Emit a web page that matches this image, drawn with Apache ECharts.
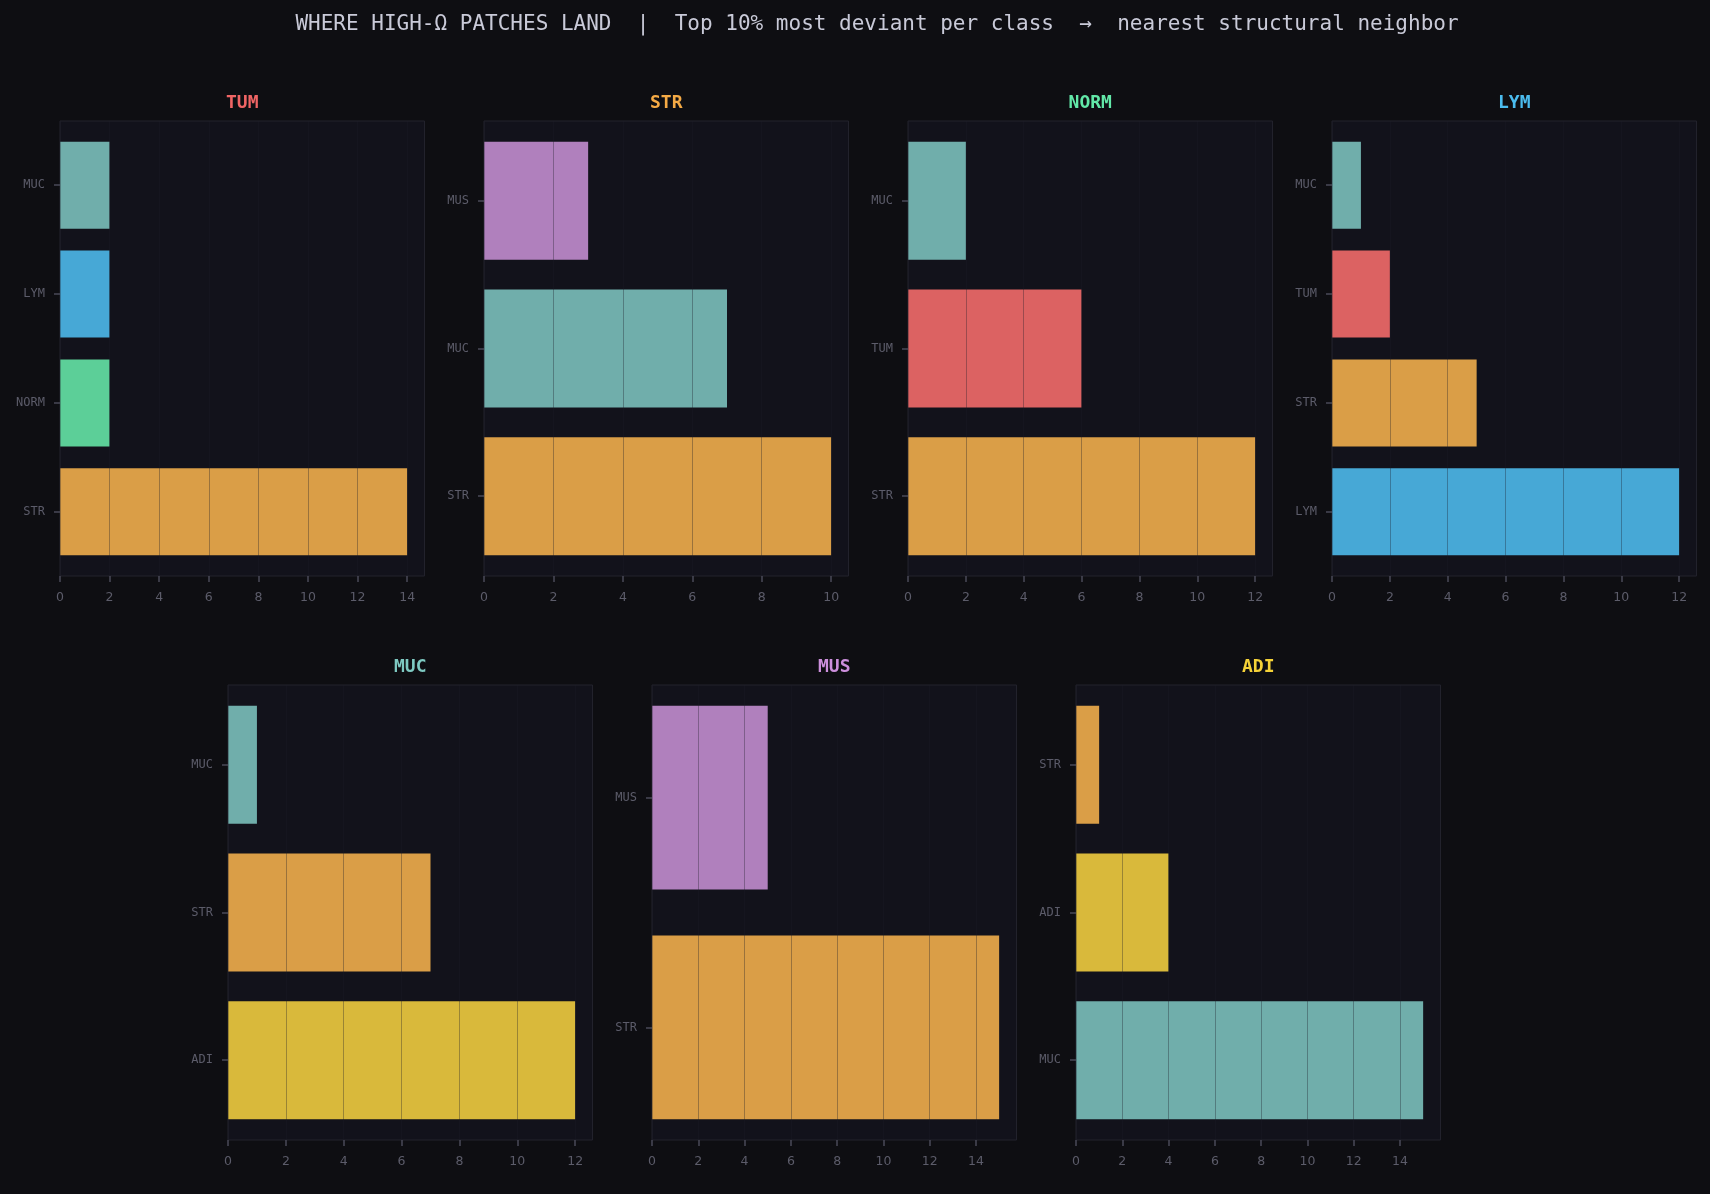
<!DOCTYPE html>
<html>
<head>
<meta charset="utf-8">
<script src="https://cdn.jsdelivr.net/npm/echarts@6/dist/echarts.min.js"></script>
<style>
  html, body { margin: 0; padding: 0; background: #0e0e12; }
  #chart { width: 1710px; height: 1194px; }
</style>
</head>
<body>
<div id="chart"></div>
<script>
// source class of each panel
var panelNames = ['TUM', 'STR', 'NORM', 'LYM', 'MUC', 'MUS', 'ADI'];

// nearest structural neighbor (top -> bottom) and patch counts
var tumNeighbors = ['MUC', 'LYM', 'NORM', 'STR'];
var tumCounts = [2, 2, 2, 14];
var strNeighbors = ['MUS', 'MUC', 'STR'];
var strCounts = [3, 7, 10];
var normNeighbors = ['MUC', 'TUM', 'STR'];
var normCounts = [2, 6, 12];
var lymNeighbors = ['MUC', 'TUM', 'STR', 'LYM'];
var lymCounts = [1, 2, 5, 12];
var mucNeighbors = ['MUC', 'STR', 'ADI'];
var mucCounts = [1, 7, 12];
var musNeighbors = ['MUS', 'STR'];
var musCounts = [5, 15];
var adiNeighbors = ['STR', 'ADI', 'MUC'];
var adiCounts = [1, 4, 15];

var xTicks = [0, 2, 4, 6, 8, 10, 12, 14];

var neighbors = [tumNeighbors, strNeighbors, normNeighbors, lymNeighbors, mucNeighbors, musNeighbors, adiNeighbors];
var counts = [tumCounts, strCounts, normCounts, lymCounts, mucCounts, musCounts, adiCounts];

// styles
var titleColor = { TUM: '#f06565', STR: '#f5aa45', NORM: '#62e8a8', LYM: '#4bbcef', MUC: '#7ec9c2', MUS: '#cc8fdc', ADI: '#f5d238' };
var barColor = { TUM: '#dc6262', STR: '#da9e47', NORM: '#5ccf98', LYM: '#47a8d6', MUC: '#70aeab', MUS: '#b080bd', ADI: '#d9b93b' };

// panel boxes (px)
var PW = 364.5, PH = 455;
var boxes = [
    { left: 60, top: 121 },
    { left: 484, top: 121 },
    { left: 908, top: 121 },
    { left: 1332, top: 121 },
    { left: 228, top: 685 },
    { left: 652, top: 685 },
    { left: 1076, top: 685 }
];

var labelColor = '#5c5c6a';
var tickColor = '#4a4a58';

var grids = [], xAxes = [], yAxes = [], series = [], graphics = [];

graphics.push({
    type: 'text', x: 877, y: 25,
    style: {
        text: 'WHERE HIGH-\u03A9 PATCHES LAND  |  Top 10% most deviant per class  \u2192  nearest structural neighbor',
        fill: '#c9cad8', font: '21px "DejaVu Sans Mono"',
        textAlign: 'center', textVerticalAlign: 'middle'
    }
});

for (var p = 0; p < panelNames.length; p++) {
    (function (p) {
        var b = boxes[p];
        var cats = neighbors[p];
        var vals = counts[p];
        var n = cats.length;
        var vmax = Math.max.apply(null, vals);
        var span = n - 1 + 0.8;

        grids.push({
            left: b.left, top: b.top, width: PW, height: PH,
            show: true, backgroundColor: '#12121b', borderColor: '#22222c', borderWidth: 1
        });

        var ticks = xTicks.filter(function (t) { return t <= vmax; });
        xAxes.push({
            type: 'value', gridIndex: p, min: 0, max: vmax * 1.05, interval: 2, z: 3,
            position: 'bottom',
            axisLine: { show: false, onZero: false },
            axisTick: { show: true, length: 6, customValues: ticks, lineStyle: { color: tickColor, width: 1.5 } },
            axisLabel: { customValues: ticks, color: labelColor, fontSize: 12.5, fontFamily: 'DejaVu Sans', margin: 15 },
            splitLine: { show: true, lineStyle: { color: 'rgba(28,28,40,0.34)', width: 1 } }
        });

        var idx = cats.map(function (c, i) { return i; });
        yAxes.push({
            type: 'value', gridIndex: p, inverse: true, position: 'left',
            min: -0.4 - 0.05 * span, max: n - 1 + 0.4 + 0.05 * span,
            axisLine: { show: false, onZero: false },
            axisTick: { show: true, length: 6, customValues: idx, lineStyle: { color: tickColor, width: 1.5 } },
            axisLabel: {
                customValues: idx, color: labelColor, fontSize: 12, fontFamily: 'DejaVu Sans Mono', margin: 15,
                formatter: function (v) { return cats[Math.round(v)] || ''; }
            },
            splitLine: { show: false }
        });

        series.push({
            type: 'custom', xAxisIndex: p, yAxisIndex: p, z: 2,
            encode: { x: 0, y: 1 },
            data: vals.map(function (v, i) { return [v, i]; }),
            renderItem: function (params, api) {
                var i = api.value(1);
                var s = api.coord([0, i]);
                var e = api.coord([api.value(0), i]);
                var h = api.size([0, 0.8])[1];
                return {
                    type: 'rect',
                    shape: { x: s[0], y: s[1] - h / 2, width: e[0] - s[0], height: h },
                    style: { fill: barColor[cats[i]] }
                };
            }
        });

        graphics.push({
            type: 'text', x: b.left + PW / 2, y: b.top - 18,
            style: {
                text: panelNames[p], fill: titleColor[panelNames[p]],
                font: 'bold 18px "DejaVu Sans Mono"',
                textAlign: 'center', textVerticalAlign: 'middle'
            }
        });
    })(p);
}

var myChart = echarts.init(document.getElementById('chart'));
myChart.setOption({
    backgroundColor: '#0e0e12',
    animation: false,
    grid: grids,
    xAxis: xAxes,
    yAxis: yAxes,
    series: series,
    graphic: graphics
});
</script>
</body>
</html>
